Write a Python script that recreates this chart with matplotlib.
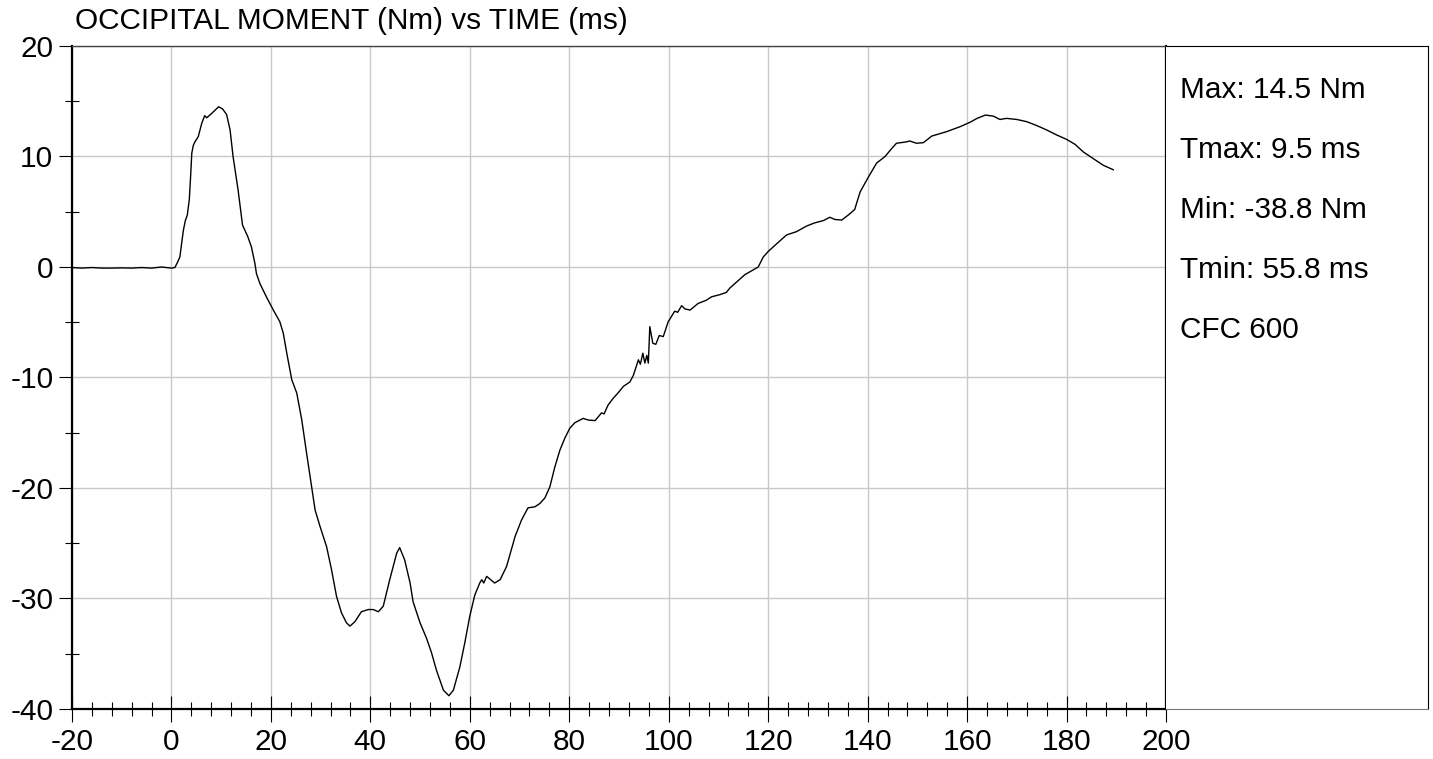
import matplotlib
matplotlib.use("Agg")
import matplotlib.pyplot as plt
from matplotlib.ticker import MultipleLocator

plt.rcParams['font.family'] = ['Liberation Sans', 'DejaVu Sans']
plt.rcParams['axes.unicode_minus'] = False

# time (ms) and occipital moment (Nm)
time_ms = [-20, -18, -16, -14, -12, -10, -8, -6, -4, -2, -1, 0, 0.7,
           1.2, 1.7, 2.4, 2.8, 3.2, 3.6, 3.9, 4.1, 4.4, 4.7, 5.4, 6.1, 6.7, 7.1, 8.1, 9.5,
           10.3, 11.1, 11.8, 12.4, 13.4, 14.3, 15.4, 16.1, 16.8, 17.1, 17.8, 19.1,
           20.5, 21.8, 22.5, 23.2, 24.2, 25.2, 26.2, 27.2, 28.2, 28.9, 29.9,
           31.2, 32.2, 33.2, 34.2, 35.2, 35.9, 36.9, 38.2, 39.6, 40.6, 41.6,
           42.6, 43.9, 45.3, 45.9, 46.9, 48.0, 48.6, 50.0, 51.3, 52.3, 53.3,
           54.7, 55.8, 56.7, 58.0, 59.0, 60.0, 61.0, 62.0, 62.4, 62.8, 63.4,
           65.0, 66.1, 67.4, 69.1, 70.4, 71.7, 73.1, 74.1, 75.1, 76.1, 77.1,
           78.1, 79.1, 80.1, 81.1, 82.8, 83.8, 85.2, 86.5, 87.0, 87.8, 88.8,
           89.8, 90.9, 92.2, 92.9, 93.9, 94.3, 94.8, 95.2, 95.6, 95.9, 96.2,
           96.8, 97.4, 98.1, 98.9, 99.9, 101.2, 101.8, 102.6, 103.3, 104.3,
           105.9, 107.6, 108.6, 110.3, 111.6, 112.3, 115.3, 118.0, 119.0,
           120.0, 121.7, 123.7, 125.7, 127.7, 129.4, 131.1, 132.4, 133.4,
           134.8, 136.1, 137.4, 137.8, 138.5, 140.1, 141.8, 143.5, 144.8,
           145.8, 147.5, 148.5, 149.8, 151.2, 152.9, 155.9, 158.6, 160.6,
           162.0, 163.7, 165.3, 166.6, 167.9, 170.0, 172.0, 174.0, 176.0,
           178.0, 180.0, 181.7, 183.4, 185.4, 187.4, 189.4]
moment_nm = [-0.05, -0.1, -0.05, -0.1, -0.1, -0.08, -0.1, -0.05, -0.1, 0.0, -0.05, -0.1, -0.05,
             0.4, 0.9, 3.3, 4.2, 4.7, 6.1, 8.5, 10.3, 11.0, 11.3, 11.8, 13.0, 13.7, 13.5, 13.9, 14.5,
             14.3, 13.8, 12.4, 10.0, 7.0, 3.8, 2.7, 1.8, 0.3, -0.6, -1.5, -2.7,
             -3.9, -4.95, -6.0, -7.8, -10.2, -11.4, -13.8, -16.9, -19.9, -22.0, -23.5,
             -25.3, -27.4, -29.8, -31.3, -32.2, -32.5, -32.1, -31.2, -31.0, -31.0, -31.2,
             -30.7, -28.3, -25.9, -25.4, -26.5, -28.6, -30.3, -32.2, -33.6, -34.9, -36.5,
             -38.3, -38.8, -38.3, -36.2, -34.0, -31.6, -29.7, -28.6, -28.3, -28.6, -28.0,
             -28.6, -28.3, -27.1, -24.4, -22.9, -21.8, -21.7, -21.4, -20.9, -19.9, -18.1,
             -16.6, -15.5, -14.6, -14.1, -13.7, -13.85, -13.9, -13.2, -13.3, -12.5, -11.9,
             -11.4, -10.8, -10.4, -9.8, -8.4, -8.8, -7.8, -8.7, -8.0, -8.7, -5.4,
             -6.9, -7.0, -6.2, -6.3, -4.95, -4.0, -4.1, -3.5, -3.8, -3.9,
             -3.3, -3.0, -2.7, -2.5, -2.3, -1.9, -0.7, 0.0, 0.9,
             1.4, 2.1, 2.9, 3.2, 3.7, 4.0, 4.2, 4.5, 4.3,
             4.25, 4.7, 5.2, 5.8, 6.8, 8.1, 9.4, 10.0, 10.7,
             11.2, 11.3, 11.4, 11.2, 11.25, 11.85, 12.25, 12.7, 13.1,
             13.45, 13.75, 13.65, 13.35, 13.45, 13.35, 13.15, 12.8, 12.4,
             11.95, 11.55, 11.1, 10.4, 9.8, 9.2, 8.8]

stats_lines = ["Max: 14.5 Nm", "Tmax: 9.5 ms", "Min: -38.8 Nm", "Tmin: 55.8 ms", "CFC 600"]

fs = 21.4

fig = plt.figure(figsize=(14.33, 7.59), dpi=100)
ax = fig.add_axes([0.0502, 0.0659, 0.7635, 0.8735])
box = fig.add_axes([0.8137, 0.0659, 0.1828, 0.8735])

ax.plot(time_ms, moment_nm, color='black', lw=1.0)
ax.set_xlim(-20, 200)
ax.set_ylim(-40, 20)

ax.xaxis.set_major_locator(MultipleLocator(20))
ax.xaxis.set_minor_locator(MultipleLocator(4))
ax.yaxis.set_major_locator(MultipleLocator(10))
ax.yaxis.set_minor_locator(MultipleLocator(5))
ax.grid(True, which='major', color='#c8c8c8', lw=1.0)
ax.set_axisbelow(True)

ax.tick_params(axis='x', which='major', direction='inout', length=18.7, width=0.8,
               labelsize=fs, pad=4)
ax.tick_params(axis='x', which='minor', direction='inout', length=9.4, width=0.8)
ax.tick_params(axis='y', which='major', direction='out', length=9.4, width=0.8,
               labelsize=fs, pad=4)
ax.tick_params(axis='y', which='minor', direction='inout', length=9.4, width=0.8)

for side in ('left', 'bottom', 'right'):
    ax.spines[side].set_linewidth(1.6)
    ax.spines[side].set_color('black')
ax.spines['top'].set_linewidth(1.0)
ax.spines['top'].set_color('#444444')

ax.text(0.003, 1.0256, "OCCIPITAL MOMENT (Nm) vs TIME (ms)", transform=ax.transAxes,
        fontsize=fs, ha='left', va='baseline')

box.set_xticks([])
box.set_yticks([])
box.spines['left'].set_visible(False)
box.spines['top'].set_color('black')
box.spines['right'].set_color('black')
box.spines['bottom'].set_color('#777777')
for i, line in enumerate(stats_lines):
    box.text(0.053, 0.934 - i * 0.0905, line, transform=box.transAxes,
             fontsize=fs, ha='left', va='center')

fig.savefig("out.png", dpi=100)
